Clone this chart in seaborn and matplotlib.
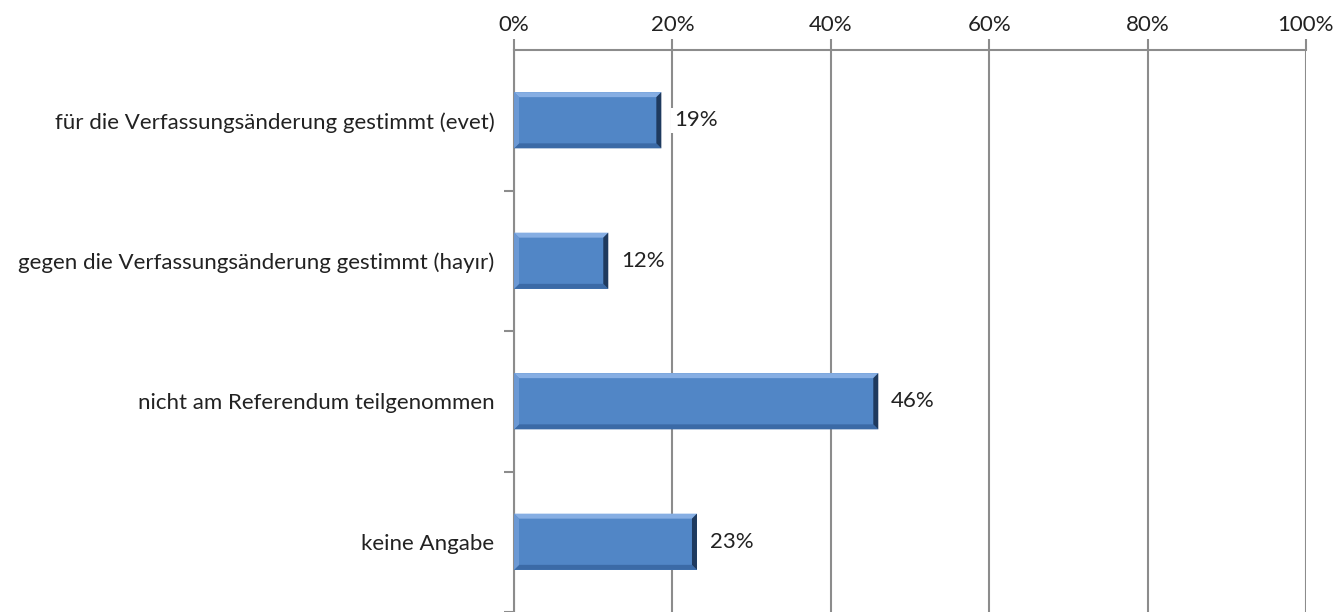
import numpy as np
import pandas as pd
import matplotlib
matplotlib.use("Agg")
import matplotlib.pyplot as plt
from matplotlib.patches import Polygon
from matplotlib.ticker import PercentFormatter, FixedLocator
import seaborn as sns

categories = [
    "für die Verfassungsänderung gestimmt (evet)",
    "gegen die Verfassungsänderung gestimmt (hayır)",
    "nicht am Referendum teilgenommen",
    "keine Angabe",
]
shares = [0.186, 0.119, 0.46, 0.231]
x_ticks = [0, 0.2, 0.4, 0.6, 0.8, 1.0]

df = pd.DataFrame({"category": categories, "share": shares})

sns.set_theme(style="white")
plt.rcParams["font.family"] = ["Lato", "DejaVu Sans"]

fig = plt.figure(figsize=(13.38, 6.12), dpi=100)
ax = fig.add_axes([0.3842, 0.0, 0.976 - 0.3842, 0.9183])

sns.barplot(data=df, x="share", y="category", orient="h", color="#5186c6",
            width=0.4, saturation=1, ax=ax, zorder=3)

ax.set_xlim(0, 1)
ax.set_ylim(len(categories) - 0.5, -0.5)

# bevel look like the Excel bars
px_x = 5 / 792.0
px_y = 5 / 140.5
for p in ax.patches:
    x0, y0 = p.get_x(), p.get_y()
    w, h = p.get_width(), p.get_height()
    x1, y1 = x0 + w, y0 + h
    p.set_edgecolor("none")
    top = [(x0, y0), (x1, y0), (x1 - px_x, y0 + px_y), (x0 + px_x, y0 + px_y)]
    bot = [(x0, y1), (x1, y1), (x1 - px_x, y1 - px_y), (x0 + px_x, y1 - px_y)]
    left = [(x0, y0), (x0 + px_x, y0 + px_y), (x0 + px_x, y1 - px_y), (x0, y1)]
    right = [(x1, y0), (x1 - px_x, y0 + px_y), (x1 - px_x, y1 - px_y), (x1, y1)]
    for pts, c in [(top, "#86aee3"), (bot, "#3b6aa6"), (left, "#6c99d4"), (right, "#1f3a5e")]:
        ax.add_patch(Polygon(pts, closed=True, facecolor=c, edgecolor="none", zorder=4))
    ax.text(x1 + 0.016, y0 + h / 2, f"{w * 100:.0f}%", va="center", ha="left",
            fontsize=16, color="#222222", zorder=5,
            bbox=dict(facecolor="white", edgecolor="none", pad=2))

ax.xaxis.set_major_locator(FixedLocator(x_ticks))
ax.xaxis.set_major_formatter(PercentFormatter(1.0, decimals=0))
ax.xaxis.tick_top()
ax.tick_params(axis="x", which="major", top=True, bottom=False, length=8, width=1.5,
               color="#8c8c8c", labelsize=16, labelcolor="#222222", pad=3)
ax.grid(axis="x", color="#8c8c8c", linewidth=1.5, zorder=0)
ax.set_axisbelow(True)

ax.set_yticks(range(len(categories)))
ax.set_yticklabels(categories)
ax.yaxis.set_minor_locator(FixedLocator([0.5, 1.5, 2.5, 3.5]))
ax.tick_params(axis="y", which="major", length=0, labelsize=16, labelcolor="#222222", pad=14)
ax.tick_params(axis="y", which="minor", left=True, length=7, width=1.5, color="#8c8c8c")
ax.set_xlabel("")
ax.set_ylabel("")

for side in ["right", "bottom"]:
    ax.spines[side].set_visible(False)
for side in ["top", "left"]:
    ax.spines[side].set_color("#8c8c8c")
    ax.spines[side].set_linewidth(1.5)

fig.savefig("out.png", dpi=100, facecolor="white")
